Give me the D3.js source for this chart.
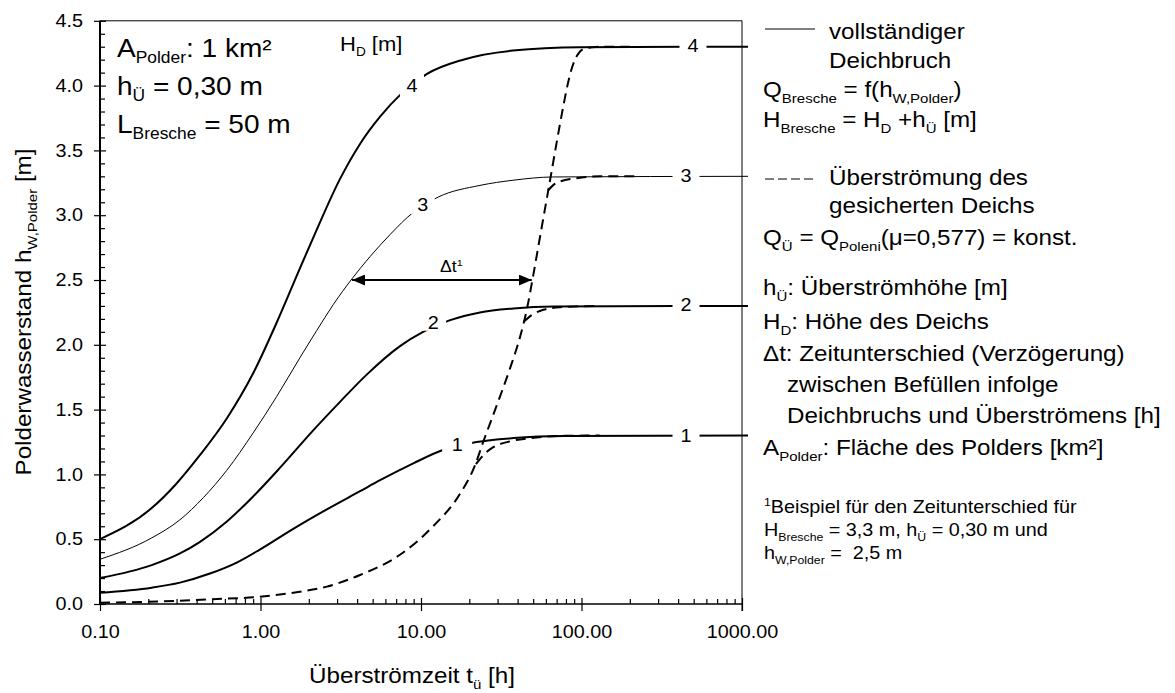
<!DOCTYPE html>
<html>
<head>
<meta charset="utf-8">
<script src="https://cdn.jsdelivr.net/npm/d3@7"></script>
<style>
  body { margin: 0; background: #fff; }
  svg text { font-family: 'Liberation Sans', Arial, Helvetica, sans-serif; fill: #000; white-space: pre; }
</style>
</head>
<body>
<svg id="chart" width="1175" height="693"></svg>
<script>
// ---- data: [Überströmzeit t in h, Polderwasserstand in m] ----

// full dike breach (solid), one per dike height H_D
const breach1 = [[0.1,0.087],[0.21,0.126],[0.315,0.165],[0.484,0.235],[0.711,0.32],[0.99,0.42],[1.6,0.58],[2.59,0.73],[4.17,0.87],[5.56,0.955],[8.95,1.085],[13.8,1.19],[22.2,1.25],[37.6,1.28],[77,1.296],[1090,1.3]];
const breach2 = [[0.1,0.2],[0.21,0.3],[0.315,0.39],[0.42,0.48],[0.615,0.635],[0.9,0.83],[1.32,1.05],[2.13,1.34],[3.13,1.56],[4.59,1.77],[7.4,1.99],[10.3,2.1],[15.2,2.19],[23.3,2.25],[37.6,2.28],[66.7,2.295],[1090,2.3]];
const breach3 = [[0.1,0.345],[0.21,0.51],[0.315,0.65],[0.44,0.82],[0.615,1.03],[0.9,1.32],[1.26,1.6],[1.76,1.9],[2.24,2.11],[2.84,2.31],[3.72,2.51],[4.81,2.68],[6.41,2.85],[8.91,3.02],[12.8,3.14],[23.3,3.23],[37.6,3.27],[66.7,3.295],[1090,3.3]];
const breach4 = [[0.1,0.5],[0.21,0.74],[0.3,0.93],[0.42,1.15],[0.615,1.43],[0.9,1.78],[1.26,2.17],[1.76,2.59],[2.19,2.86],[3.13,3.28],[4.17,3.55],[5.56,3.76],[7.58,3.94],[10.9,4.09],[18.3,4.2],[37.4,4.27],[98,4.295],[1090,4.3]];

// overtopping of the secured dike (dashed): common rise + branches to each level
const overflowMain = [[0.1,0.01],[0.237,0.02],[0.484,0.036],[0.99,0.056],[1.76,0.095],[2.59,0.134],[4.17,0.224],[7.4,0.38],[11.9,0.6],[17.5,0.85],[21.7,1.07],[24.4,1.25],[29.6,1.53],[35.9,1.82],[41.4,2.06],[45.6,2.27],[50.1,2.54],[55.1,2.83],[63.7,3.27],[70,3.56],[77,3.84],[82.4,4.02],[87.3,4.14],[93.7,4.23],[102,4.28],[116,4.295],[130,4.3],[200,4.3]];
const overflow1 = [[22.0,1.08],[25.5,1.17],[28.2,1.21],[35.9,1.255],[47.8,1.28],[73.5,1.297],[130,1.3]];
const overflow2 = [[43.8,2.18],[49,2.23],[57.8,2.27],[73.5,2.29],[130,2.3]];
const overflow3 = [[61.8,3.19],[66.4,3.23],[73.5,3.26],[93.3,3.285],[130,3.3],[230,3.3]];

// curve labels H_D and where they sit [t, h]
const curveNames = ["1", "2", "3", "4"];
const leftLabelPos = [[16.8,1.23],[11.9,2.17],[10.25,3.08],[8.79,4.0]];
const rightLabelPos = [[448,1.3],[448,2.31],[448,3.31],[495,4.31]];

// Δt example span at h = 2.5 m
const deltaT = [3.72, 49.0];
const deltaH = 2.5;

// ticks
const xMajor = [0.1, 1, 10, 100, 1000];
const yMajor = [0, 0.5, 1, 1.5, 2, 2.5, 3, 3.5, 4, 4.5];

// text blocks (parts: plain string, or [text, "sub"|"sup"])
const infoLines = [
  ["A", ["Polder","sub"], ": 1 km²"],
  ["h", ["Ü","sub"], " = 0,30 m"],
  ["L", ["Bresche","sub"], " = 50 m"]
];
const legendLines = [
  {x: 829, y: 39, parts: ["vollständiger"]},
  {x: 829, y: 68, parts: ["Deichbruch"]},
  {x: 763, y: 97, parts: ["Q", ["Bresche","sub"], " = f(h", ["W,Polder","sub"], ")"]},
  {x: 763, y: 127, parts: ["H", ["Bresche","sub"], " = H", ["D","sub"], " +h", ["Ü","sub"], " [m]"]},
  {x: 829, y: 185, parts: ["Überströmung des"]},
  {x: 829, y: 213, parts: ["gesicherten Deichs"]},
  {x: 763, y: 245, parts: ["Q", ["Ü","sub"], " = Q", ["Poleni","sub"], "(μ=0,577) = konst."]},
  {x: 763, y: 295, parts: ["h", ["Ü","sub"], ": Überströmhöhe [m]"]},
  {x: 763, y: 329, parts: ["H", ["D","sub"], ": Höhe des Deichs"]},
  {x: 763, y: 361, parts: ["Δt: Zeitunterschied (Verzögerung)"]},
  {x: 787, y: 392, parts: ["zwischen Befüllen infolge"]},
  {x: 787, y: 423, parts: ["Deichbruchs und Überströmens [h]"]},
  {x: 763, y: 455, parts: ["A", ["Polder","sub"], ": Fläche des Polders [km²]"]}
];
const footLines = [
  [["1","sup"], "Beispiel für den Zeitunterschied für"],
  ["H", ["Bresche","sub"], " = 3,3 m, h", ["Ü","sub"], " = 0,30 m und"],
  ["h", ["W,Polder","sub"], " =  2,5 m"]
];

// ---- drawing ----
const SX = 1.1; // the original font runs a bit wider than Arial
const svg = d3.select("#chart");
const plot = {left: 100, right: 742, top: 20.8, bottom: 604};

const x = d3.scaleLog().domain([0.1, 1000]).range([plot.left, plot.right]);
const y = d3.scaleLinear().domain([0, 4.5]).range([plot.bottom, plot.top]);

// rich text with sub/superscripts, stretched horizontally
const richText = (parent, px, py, parts, size, anchor = "start", rotate = 0) => {
  const g = parent.append("g")
    .attr("transform", `translate(${px},${py}) rotate(${rotate}) scale(${SX},1)`);
  const t = g.append("text").attr("font-size", size).attr("text-anchor", anchor);
  let shift = 0;
  parts.forEach(p => {
    const [str, kind] = typeof p === "string" ? [p, ""] : p;
    const target = kind === "sub" ? size * 0.25 : kind === "sup" ? -size * 0.4 : 0;
    t.append("tspan")
      .attr("dy", target - shift)
      .attr("font-size", kind ? size * 0.62 : size)
      .text(str);
    shift = target;
  });
  return g;
};

// axes: minor ticks inside, major ticks crossing
const xMinor = x.ticks().filter(d => !xMajor.some(m => Math.abs(m - d) < 1e-9));
const yMinor = d3.range(0, 4.501, 0.1).filter(d => Math.abs(d * 2 - Math.round(d * 2)) > 1e-6);

svg.append("g").attr("transform", `translate(0,${plot.bottom})`)
  .call(d3.axisBottom(x).tickValues(xMinor).tickSize(-5).tickFormat(""))
  .call(g => g.select(".domain").remove());
svg.append("g").attr("transform", `translate(${plot.left},0)`)
  .call(d3.axisLeft(y).tickValues(yMinor).tickSize(-5).tickFormat(""))
  .call(g => g.select(".domain").remove());

const xAxis = svg.append("g").attr("transform", `translate(0,${plot.bottom})`)
  .call(d3.axisBottom(x).tickValues(xMajor).tickSize(7).tickPadding(14).tickFormat(d3.format(".2f")))
  .call(g => g.select(".domain").remove());
xAxis.selectAll(".tick line").attr("y1", -6);
xAxis.selectAll(".tick text").attr("font-size", 18).attr("transform", `scale(${SX},1)`);
xAxis.attr("font-family", null).attr("font-size", null);

const yAxis = svg.append("g").attr("transform", `translate(${plot.left},0)`)
  .call(d3.axisLeft(y).tickValues(yMajor).tickSize(6).tickPadding(11).tickFormat(d3.format(".1f")))
  .call(g => g.select(".domain").remove());
yAxis.selectAll(".tick line").attr("x1", 6);
yAxis.selectAll(".tick text").attr("font-size", 18).attr("x", -17 / SX).attr("transform", `scale(${SX},1)`);
yAxis.attr("font-family", null).attr("font-size", null);

svg.selectAll(".tick line").attr("stroke", "#000").attr("stroke-width", 1.2);

// frame
svg.append("line").attr("x1", plot.left).attr("x2", plot.left).attr("y1", plot.top).attr("y2", plot.bottom)
  .attr("stroke", "#000").attr("stroke-width", 2);
svg.append("line").attr("x1", plot.left).attr("x2", plot.right).attr("y1", plot.bottom).attr("y2", plot.bottom)
  .attr("stroke", "#000").attr("stroke-width", 1.5);
svg.append("line").attr("x1", plot.left).attr("x2", plot.right).attr("y1", plot.top).attr("y2", plot.top)
  .attr("stroke", "#000").attr("stroke-width", 1);
svg.append("line").attr("x1", plot.right).attr("x2", plot.right).attr("y1", plot.top).attr("y2", plot.bottom + 7)
  .attr("stroke", "#000").attr("stroke-width", 1);

// curves
const line = d3.line().x(d => x(d[0])).y(d => y(d[1])).curve(d3.curveMonotoneX);

[breach1, breach2, breach3, breach4].forEach((s, i) => {
  svg.append("path").attr("d", line(s)).attr("fill", "none")
    .attr("stroke", "#000").attr("stroke-width", i === 2 ? 1 : 2);
});
[overflowMain, overflow1, overflow2, overflow3].forEach(s => {
  svg.append("path").attr("d", line(s)).attr("fill", "none")
    .attr("stroke", "#000").attr("stroke-width", 2).attr("stroke-dasharray", "10,6");
});

// curve labels with gaps cut into the lines
const leftGap = [[30, 14], [26, 16], [24, 18], [24, 22]];
const labelLayer = svg.append("g");
leftLabelPos.forEach((p, i) => {
  const cx = x(p[0]), cy = y(p[1]);
  labelLayer.append("rect").attr("x", cx - leftGap[i][0] / 2).attr("y", cy - leftGap[i][1] / 2)
    .attr("width", leftGap[i][0]).attr("height", leftGap[i][1]).attr("fill", "#fff");
  richText(labelLayer, cx, cy + 6.5, [curveNames[i]], 18, "middle");
});
rightLabelPos.forEach((p, i) => {
  const cx = x(p[0]), cy = y(p[1]);
  labelLayer.append("rect").attr("x", cx - 13.5).attr("y", cy - 8)
    .attr("width", 27).attr("height", 16).attr("fill", "#fff");
  richText(labelLayer, cx, cy + 6.5, [curveNames[i]], 18, "middle");
});

// Δt arrow
const defs = svg.append("defs");
defs.append("marker").attr("id", "tip").attr("markerUnits", "userSpaceOnUse")
  .attr("markerWidth", 13).attr("markerHeight", 11).attr("refX", 13).attr("refY", 5.5)
  .attr("orient", "auto-start-reverse")
  .append("path").attr("d", "M0,0 L13,5.5 L0,11 Z").attr("fill", "#000");
svg.append("line")
  .attr("x1", x(deltaT[0])).attr("x2", x(deltaT[1]))
  .attr("y1", y(deltaH)).attr("y2", y(deltaH))
  .attr("stroke", "#000").attr("stroke-width", 2)
  .attr("marker-start", "url(#tip)").attr("marker-end", "url(#tip)");
richText(svg, 440, 272, ["Δt", ["1", "sup"]], 16);

// in-plot annotations
infoLines.forEach((parts, i) => richText(svg, 117, 57 + i * 38, parts, 25.5));
richText(svg, 340, 50.5, ["H", ["D", "sub"], " [m]"], 20);

// axis titles
richText(svg, 412, 683, ["Überströmzeit t", ["ü", "sub"], " [h]"], 22, "middle");
richText(svg, 31, 312, ["Polderwasserstand h", ["W,Polder", "sub"], " [m]"], 22, "middle", -90);

// legend
svg.append("line").attr("x1", 765).attr("x2", 815).attr("y1", 29).attr("y2", 29)
  .attr("stroke", "#000").attr("stroke-width", 1);
svg.append("line").attr("x1", 765).attr("x2", 815).attr("y1", 179).attr("y2", 179)
  .attr("stroke", "#000").attr("stroke-width", 1).attr("stroke-dasharray", "9,4");
legendLines.forEach(l => richText(svg, l.x, l.y, l.parts, 22));
footLines.forEach((parts, i) => richText(svg, 764, 513 + i * 23, parts, 18));
</script>
</body>
</html>
